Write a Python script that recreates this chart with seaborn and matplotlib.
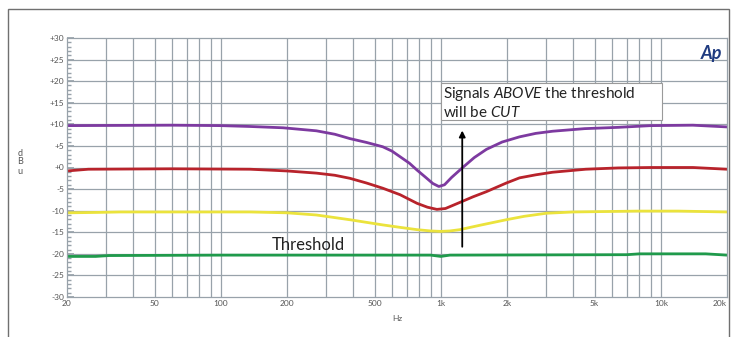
import matplotlib
matplotlib.use("Agg")
import matplotlib.pyplot as plt
import numpy as np
import pandas as pd
import seaborn as sns
from matplotlib.patches import Rectangle

# frequency response curves (Hz, dBu)
purple_hz = [20, 60, 100, 136, 192, 272, 330, 386, 460, 545, 600, 653, 720, 780, 850, 920, 980,
             1040, 1120, 1258, 1420, 1612, 1900, 2280, 2700, 3220, 4500, 6400, 9000, 14000, 20000]
purple_db = [9.7, 9.8, 9.7, 9.5, 9.2, 8.5, 7.7, 6.7, 5.8, 4.8, 3.8, 2.5, 1.0, -0.6, -2.2, -3.7, -4.4,
             -4.0, -2.3, 0.0, 2.3, 4.2, 5.9, 7.1, 7.9, 8.4, 9.0, 9.3, 9.7, 9.8, 9.4]

red_hz = [20, 25, 60, 136, 200, 272, 330, 386, 460, 545, 653, 720, 780, 870, 960, 1050, 1220,
          1400, 1612, 1985, 2280, 2700, 3220, 4560, 6400, 9000, 14000, 20000]
red_db = [-0.8, -0.4, -0.3, -0.4, -0.8, -1.3, -1.8, -2.5, -3.6, -4.8, -6.3, -7.4, -8.3, -9.2, -9.7, -9.5, -8.1,
          -6.8, -5.6, -3.6, -2.4, -1.7, -1.1, -0.4, -0.1, 0.0, 0.0, -0.4]

yellow_hz = [20, 28, 35, 136, 200, 272, 386, 545, 660, 780, 900, 1000, 1100, 1220, 1500, 1985,
             2400, 3020, 4000, 7880, 12000, 20000]
yellow_db = [-10.5, -10.4, -10.3, -10.3, -10.5, -11.0, -12.1, -13.3, -13.9, -14.4, -14.7, -14.8, -14.7, -14.4, -13.4, -12.1,
             -11.3, -10.6, -10.3, -10.1, -10.1, -10.3]

green_hz = [20, 27, 31, 100, 500, 900, 1000, 1100, 7000, 8000, 16000, 20000]
green_db = [-20.6, -20.6, -20.4, -20.3, -20.3, -20.3, -20.6, -20.3, -20.2, -20.0, -20.0, -20.3]

x_ticks = [20, 50, 100, 200, 500, 1000, 2000, 5000, 10000, 20000]
x_tick_labels = ["20", "50", "100", "200", "500", "1k", "2k", "5k", "10k", "20k"]
x_grid = [30, 40, 60, 70, 80, 90, 300, 400, 600, 700, 800, 900, 3000, 4000, 6000, 7000, 8000, 9000]
y_ticks = list(range(-30, 31, 5))
y_tick_labels = [f"+{v}" if v >= 0 else f"{v}" for v in y_ticks]

curves = pd.concat([
    pd.DataFrame({"hz": purple_hz, "db": purple_db, "level": "purple"}),
    pd.DataFrame({"hz": red_hz, "db": red_db, "level": "red"}),
    pd.DataFrame({"hz": yellow_hz, "db": yellow_db, "level": "yellow"}),
    pd.DataFrame({"hz": green_hz, "db": green_db, "level": "green"}),
])
palette = {"purple": "#7d3aa0", "red": "#b8232b", "yellow": "#ebe33c", "green": "#1f9a4b"}

sns.set_theme(style="white")
plt.rcParams["font.family"] = ["Lato", "DejaVu Sans"]
plt.rcParams["mathtext.fontset"] = "custom"
plt.rcParams["mathtext.rm"] = "Lato"
plt.rcParams["mathtext.it"] = "Lato:italic"

fig = plt.figure(figsize=(7.36, 3.37), dpi=100)
ax = fig.add_axes([67 / 736, 40 / 337, 660 / 736, 259 / 337])

grid_color = "#98a2aa"
ax.set_xscale("log")
ax.set_xlim(20, 20000)
ax.set_ylim(-30, 30)
for v in x_ticks[1:-1] + x_grid:
    ax.axvline(v, color=grid_color, lw=0.9, zorder=0)
for v in y_ticks[1:-1]:
    ax.axhline(v, color=grid_color, lw=0.9, zorder=0)

sns.lineplot(data=curves, x="hz", y="db", hue="level", palette=palette, estimator=None,
             sort=True, lw=2.0, legend=False, ax=ax)

ax.set_xticks(x_ticks)
ax.set_xticklabels(x_tick_labels)
ax.get_xticklabels()[-1].set_horizontalalignment("right")
ax.set_xticks([], minor=True)
ax.set_yticks(y_ticks)
ax.set_yticklabels(y_tick_labels)
ax.set_yticks(np.arange(-30, 31, 1), minor=True)
ax.tick_params(axis="both", which="major", labelsize=6, labelcolor="#555555", pad=2)
ax.tick_params(axis="y", which="major", direction="in", length=5, color=grid_color, left=True)
ax.tick_params(axis="y", which="minor", direction="in", length=3, color=grid_color, left=True)
ax.tick_params(axis="x", which="major", length=0)
for spine in ax.spines.values():
    spine.set_color(grid_color)
    spine.set_linewidth(0.9)
ax.set_xlabel("Hz", fontsize=6, color="#555555", labelpad=6)
ax.set_ylabel("")
for i, letter in enumerate("dBu"):
    fig.text(20 / 736, 1 - (153 + i * 9) / 337, letter, fontsize=6.5, color="#555555",
             ha="center", va="center")

# annotation box and arrow
ax.annotate("", xy=(1252, 9.2), xytext=(1252, -19.0),
            arrowprops=dict(arrowstyle="-|>", color="black", lw=1.3, mutation_scale=9))
ax.add_patch(Rectangle((1000, 11.0), 9100, 8.5, facecolor="white", edgecolor="#9a9a9a", lw=0.8, zorder=4))
ax.text(1025, 15.1, "Signals $\\mathit{ABOVE}$ the threshold\nwill be $\\mathit{CUT}$", fontsize=11,
        color="#222222", va="center", ha="left", linespacing=1.2, zorder=5)
ax.text(171, -17.9, "Threshold", fontsize=12, color="#222222", va="center", ha="left", zorder=5)
ax.text(19000, 26.3, "Ap", fontsize=13, color="#1f3b80", fontweight="bold", fontstyle="italic",
        ha="right", va="center", zorder=5)

# outer frame of the figure
fig.patches.append(Rectangle((8 / 736, -0.05), 721 / 736, 1.05 - 9 / 337, transform=fig.transFigure,
                             fill=False, edgecolor="#707070", lw=1.0))

fig.savefig("out.png", dpi=100)
plt.close(fig)
